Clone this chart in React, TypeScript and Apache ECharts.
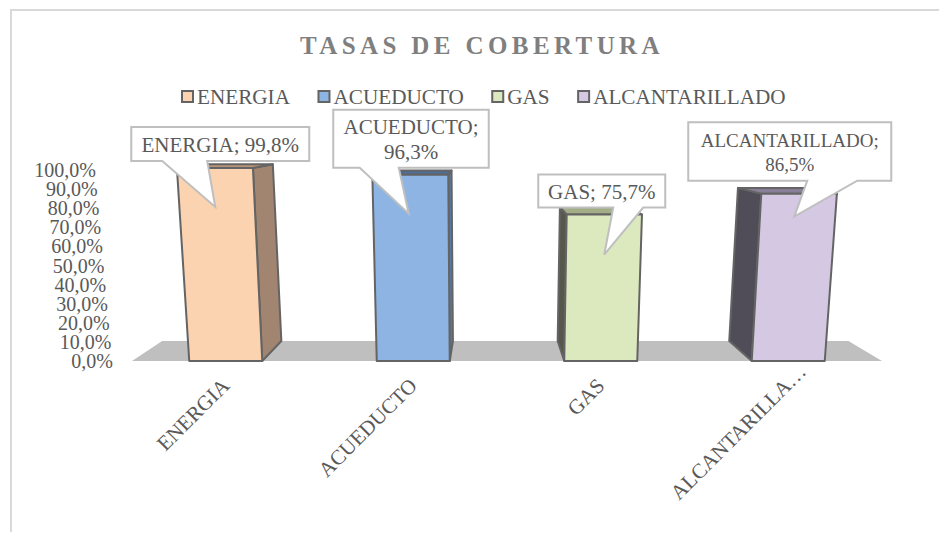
import React, { useEffect, useRef } from "react";
import * as echarts from "echarts";

const TITLE = "TASAS DE COBERTURA";
const categories = ["ENERGIA", "ACUEDUCTO", "GAS", "ALCANTARILLADO"];
const tickLabels = ["ENERGIA", "ACUEDUCTO", "GAS", "ALCANTARILLA…"];
const yTickLabels = ["0,0%", "10,0%", "20,0%", "30,0%", "40,0%", "50,0%", "60,0%", "70,0%", "80,0%", "90,0%", "100,0%"];
const coverage = [99.8, 96.3, 75.7, 86.5];

const frontColors = ["#FCD3B1", "#8DB4E3", "#DCE9BF", "#D5C8E2"];
const sideColors = ["#A18570", "#5A7AA5", "#55584A", "#514D58"];
const topColors = ["#B89576", "#4F6D96", "#A3AE88", "#8A7F99"];
const calloutBoxes = [
  { l: -94.5, r: 83.5, t: -41, b: -7, w0: -63.5, w1: -18.5, tx: -10.5, ty: 39, size: 21, wrap: false },
  { l: -80, r: 75.5, t: -65, b: -7, w0: -53.5, w1: -14.5, tx: -4.5, ty: 39, size: 21, wrap: true },
  { l: -62.5, r: 64.5, t: -40, b: -7, w0: 12.5, w1: 42.5, tx: 3.5, ty: 40, size: 21, wrap: false },
  { l: -100, r: 103, t: -71.5, b: -13, w0: 19, w1: 69, tx: 6, ty: 23, size: 19, wrap: true },
];

const SERIF = '"Liberation Serif", serif';
const TEXT = "#595959";
const EDGE = "#646464";
const VANISH_X = 487;
const VANISH_Y = 126;
const DEPTH = 0.085;
const LEAN = 0.000215;
const HEIGHT_SCALE = 1.013;
const BAR_WIDTH = 73;

const pct = (v: number) => `${v.toFixed(1).replace(".", ",")}%`;
const back = (p: number[]) => [p[0] + (p[0] - VANISH_X) * -DEPTH, p[1] + (p[1] - VANISH_Y) * -DEPTH];

function renderBar(i: number) {
  return (_params: any, api: any) => {
    const idx = api.value(0);
    const [bx, y0] = api.coord([idx, 0]);
    const yTop = y0 - (y0 - api.coord([idx, api.value(1)])[1]) * HEIGHT_SCALE;
    const h = y0 - yTop;
    const half = BAR_WIDTH / 2;
    const tk = LEAN * h;
    const fbl = [bx - half, y0];
    const fbr = [bx + half, y0];
    const ftl = [bx - half + (bx - half - VANISH_X) * tk, yTop];
    const ftr = [bx + half + (bx + half - VANISH_X) * tk, yTop];
    const rightSide = bx < VANISH_X;
    const sideBase = rightSide ? fbr : fbl;
    const sideTop = rightSide ? ftr : ftl;
    const stroke = { stroke: EDGE, lineWidth: 2, lineJoin: "round" };
    const cx = bx;
    const c = calloutBoxes[i];
    const yc = yTop;
    const calloutPoints = [
      [cx + c.l, yc + c.t],
      [cx + c.r, yc + c.t],
      [cx + c.r, yc + c.b],
      [cx + c.w1, yc + c.b],
      [cx + c.tx, yc + c.ty],
      [cx + c.w0, yc + c.b],
      [cx + c.l, yc + c.b],
    ];
    const sep = c.wrap ? ";\n" : "; ";
    return {
      type: "group",
      children: [
        { type: "polygon", shape: { points: [sideBase, sideTop, back(sideTop), back(sideBase)] }, style: { fill: sideColors[i], ...stroke } },
        { type: "polygon", shape: { points: [ftl, ftr, back(ftr), back(ftl)] }, style: { fill: topColors[i], ...stroke } },
        { type: "polygon", shape: { points: [fbl, fbr, ftr, ftl] }, style: { fill: frontColors[i], ...stroke } },
        { type: "polygon", shape: { points: calloutPoints }, style: { fill: "#FFFFFF", stroke: "#BFBFBF", lineWidth: 2 } },
        {
          type: "text",
          style: {
            text: `${categories[i]}${sep}${pct(coverage[i])}`,
            x: cx + (c.l + c.r) / 2,
            y: yc + (c.t + c.b) / 2 + 1,
            align: "center",
            verticalAlign: "middle",
            fontFamily: SERIF,
            fontSize: c.size,
            lineHeight: c.size + 4.5,
            fill: TEXT,
          },
        },
      ],
    };
  };
}

function renderFloor(params: any) {
  const g = params.coordSys;
  const fl = [g.x, g.y + g.height];
  const fr = [g.x + g.width, g.y + g.height];
  return { type: "polygon", shape: { points: [fl, fr, back(fr), back(fl)] }, style: { fill: "#BFBFBF" } };
}

export default function App() {
  const ref = useRef<HTMLDivElement>(null);
  useEffect(() => {
    const chart = echarts.init(ref.current!, null, { renderer: "svg" });
    const rich: any = {};
    yTickLabels.forEach((_t, i) => {
      rich[`t${i}`] = { fontFamily: SERIF, fontSize: 20, color: TEXT, padding: [0, i * 1.7, 0, 0] };
    });
    chart.setOption({
      animation: false,
      backgroundColor: "#FFFFFF",
      title: {
        text: TITLE,
        left: 477,
        top: 28,
        textAlign: "center",
        textStyle: { fontFamily: SERIF, fontSize: 25, fontWeight: "bold", color: "#7F7F7F" },
      },
      legend: {
        left: 176,
        top: 81,
        icon: "rect",
        itemWidth: 11,
        itemHeight: 11,
        itemGap: 27.5,
        textStyle: { fontFamily: SERIF, fontSize: 21.2, color: TEXT, padding: [0, 0, 0, -1] },
        data: categories.map((name, i) => ({
          name,
          icon: "rect",
          itemStyle: { color: frontColors[i], borderColor: EDGE, borderWidth: 2 },
        })),
      },
      grid: { left: 132, top: 170, width: 750, height: 191, containLabel: false },
      xAxis: {
        type: "category",
        data: categories,
        axisLine: { show: false },
        axisTick: { show: false },
        axisLabel: {
          interval: 0,
          rotate: 45,
          margin: 21,
          fontFamily: SERIF,
          fontSize: 21,
          color: TEXT,
          formatter: (_v: string, i: number) => `{${i === 3 ? "long" : "base"}|${tickLabels[i]}}`,
          rich: {
            base: { fontFamily: SERIF, fontSize: 21, color: TEXT },
            long: { fontFamily: SERIF, fontSize: 21, color: TEXT, padding: [0, -20, 0, 0] },
          },
        },
      },
      yAxis: [
        { type: "value", min: 0, max: 100, interval: 10, show: false },
        {
          type: "category",
          position: "left",
          boundaryGap: false,
          data: yTickLabels,
          axisLine: { show: false },
          axisTick: { show: false },
          splitLine: { show: false },
          axisLabel: {
            interval: 0,
            margin: 19,
            formatter: (v: string, i: number) => `{t${i}|${v}}`,
            rich,
          },
        },
      ],
      graphic: [
        {
          type: "polyline",
          silent: true,
          shape: { points: [[11, 532], [11, 10], [939, 10]] },
          style: { stroke: "#D9D9D9", lineWidth: 2, fill: "none" },
        },
      ],
      series: [
        { type: "custom", name: "suelo", z: 1, silent: true, clip: false, yAxisIndex: 0, data: [[0, 0]], renderItem: renderFloor },
        ...categories.map((name, i) => ({
          type: "custom",
          name,
          z: 2,
          clip: false,
          silent: true,
          yAxisIndex: 0,
          itemStyle: { color: frontColors[i] },
          encode: { x: 0, y: 1 },
          data: [[i, coverage[i]]],
          renderItem: renderBar(i),
        })),
      ],
    });
    return () => chart.dispose();
  }, []);
  return (
    <>
      <style>{`text[style*="bold"]{letter-spacing:4.4px}`}</style>
      <div ref={ref} style={{ position: "fixed", left: 0, top: 0, width: 939, height: 533 }} />
    </>
  );
}
